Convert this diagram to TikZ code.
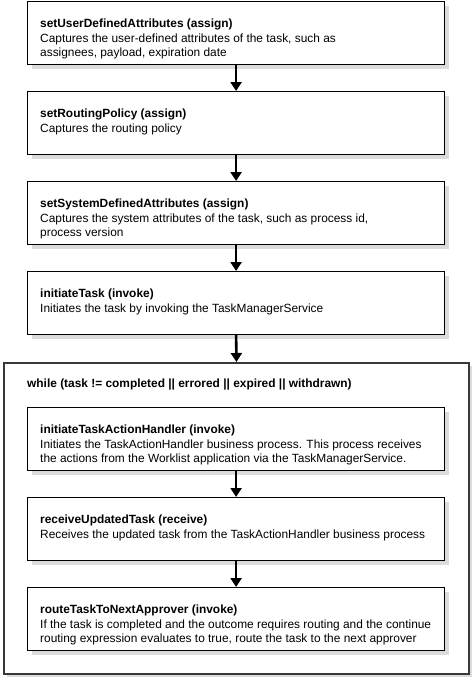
\documentclass[tikz,border=0pt]{standalone}
\usepackage{fontspec}
\setmainfont{Liberation Sans}
\usetikzlibrary{arrows.meta,shadows}
\begin{document}
\begin{tikzpicture}[x=1pt,y=-1pt,
  stepbox/.style={draw=black, line width=1.2pt, fill=white, minimum width=417pt,
    minimum height=63pt, anchor=north west, inner sep=0pt,
    general shadow={fill=black!14, shadow xshift=4.5pt, shadow yshift=-4.5pt}},
  loopbox/.style={draw=black!78, line width=2pt, fill=white, minimum width=465pt,
    minimum height=311pt, anchor=north west, inner sep=0pt,
    general shadow={fill=black!14, shadow xshift=3pt, shadow yshift=-3pt}},
  desc/.style={anchor=north west, align=left, inner sep=0pt,
    font=\fontsize{11.9}{14.4}\selectfont},
  flow/.style={line width=2.6pt, -{Triangle[width=11pt,length=9pt]}}
]
\useasboundingbox (0,0) rectangle (473,678);

\node[loopbox] (loop) at (3,362) {};

\node[stepbox] (b1) at (27,1) {};
\node[stepbox] (b2) at (27,91) {};
\node[stepbox] (b3) at (27,181) {};
\node[stepbox] (b4) at (27,271) {};
\node[stepbox] (i1) at (27,407) {};
\node[stepbox] (i2) at (27,497) {};
\node[stepbox] (i3) at (27,587) {};

\node[desc] (t1) at ([shift={(13,18)}]b1.north west)
  {\textbf{setUserDefinedAttributes (assign)}\\Captures the user-defined attributes of the task, such as\\assignees, payload, expiration date};
\node[desc] (t2) at ([shift={(13,18)}]b2.north west)
  {\textbf{setRoutingPolicy (assign)}\\Captures the routing policy};
\node[desc] (t3) at ([shift={(13,18)}]b3.north west)
  {\textbf{setSystemDefinedAttributes (assign)}\\Captures the system attributes of the task, such as process id,\\process version};
\node[desc] (t4) at ([shift={(13,18)}]b4.north west)
  {\textbf{initiateTask (invoke)}\\Initiates the task by invoking the TaskManagerService};
\node[desc] (tw) at ([shift={(24,17)}]loop.north west)
  {\textbf{while (task != completed || errored || expired || withdrawn)}};
\node[desc] (ti1) at ([shift={(13,18)}]i1.north west)
  {\textbf{initiateTaskActionHandler (invoke)}\\Initiates the TaskActionHandler business process. This process receives\\the actions from the Worklist application via the TaskManagerService.};
\node[desc] (ti2) at ([shift={(13,18)}]i2.north west)
  {\textbf{receiveUpdatedTask (receive)}\\Receives the updated task from the TaskActionHandler business process};
\node[desc] (ti3) at ([shift={(13,18)}]i3.north west)
  {\textbf{routeTaskToNextApprover (invoke)}\\If the task is completed and the outcome requires routing and the continue\\routing expression evaluates to true, route the task to the next approver};

\draw[flow] (b1.south) -- (b2.north);
\draw[flow] (b2.south) -- (b3.north);
\draw[flow] (b3.south) -- (b4.north);
\draw[flow] (b4.south) -- (loop.north);
\draw[flow] (i1.south) -- (i2.north);
\draw[flow] (i2.south) -- (i3.north);
\end{tikzpicture}
\end{document}
